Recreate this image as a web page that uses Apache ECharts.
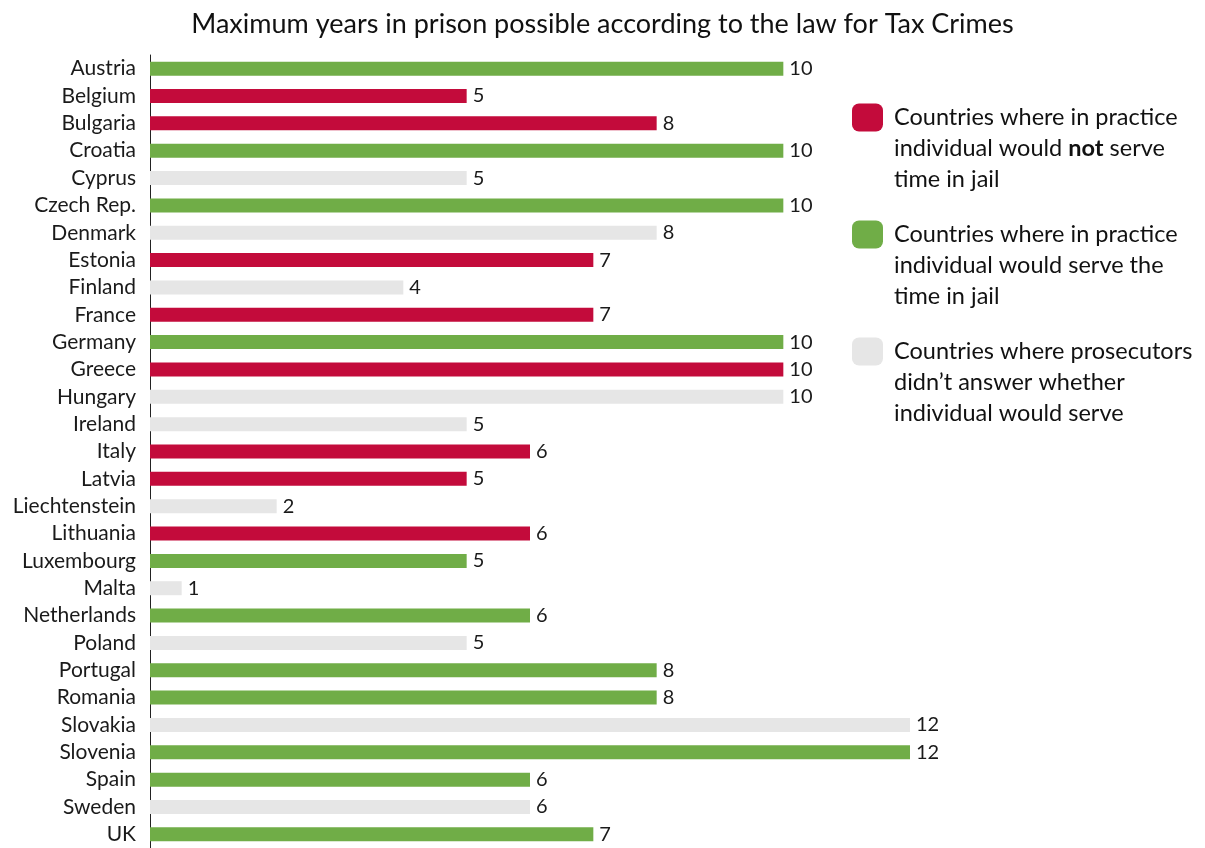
<!DOCTYPE html>
<html>
<head>
<meta charset="utf-8">
<script src="https://cdn.jsdelivr.net/npm/echarts@6/dist/echarts.min.js"></script>
<style>
  html, body { margin: 0; padding: 0; background: #fff; }
  #chart { width: 1205px; height: 848px; }
</style>
</head>
<body>
<div id="chart"></div>
<script>
const countries = ['Austria', 'Belgium', 'Bulgaria', 'Croatia', 'Cyprus', 'Czech Rep.', 'Denmark', 'Estonia',
  'Finland', 'France', 'Germany', 'Greece', 'Hungary', 'Ireland', 'Italy', 'Latvia', 'Liechtenstein',
  'Lithuania', 'Luxembourg', 'Malta', 'Netherlands', 'Poland', 'Portugal', 'Romania', 'Slovakia',
  'Slovenia', 'Spain', 'Sweden', 'UK']
// Malta's bar is half a year long but labelled "1" (rounded) in the original
const maxYears = [10, 5, 8, 10, 5, 10, 8, 7, 4, 7, 10, 10, 10, 5, 6, 5, 2, 6, 5, 0.5, 6, 5, 8, 8, 12, 12, 6, 6, 7]
// R = would not serve, G = would serve, N = no answer
const groups = ['G', 'R', 'R', 'G', 'N', 'G', 'N', 'R', 'N', 'R', 'G', 'R', 'N', 'N', 'R', 'R', 'N',
  'R', 'G', 'N', 'G', 'N', 'G', 'G', 'N', 'G', 'G', 'N', 'G']
const seriesNames = ['notServe', 'serve', 'noAnswer']
const groupKeys = ['R', 'G', 'N']
const colors = ['#C30B3B', '#70AD47', '#E6E6E6']
const legendText = {
  notServe: 'Countries where in practice\nindividual would {b|not} serve\ntime in jail',
  serve: 'Countries where in practice\nindividual would serve the\ntime in jail',
  noAnswer: 'Countries where prosecutors\ndidn\u2019t answer whether\nindividual would serve'
}

const FONT = 'Lato, "Open Sans", sans-serif'

const chart = echarts.init(document.getElementById('chart'))

const series = seriesNames.map((name, i) => ({
  name: name,
  type: 'bar',
  barWidth: 14,
  barGap: '-100%',
  itemStyle: { color: colors[i] },
  label: {
    show: true,
    position: 'right',
    distance: 6,
    color: '#1a1a1a',
    fontFamily: FONT,
    fontSize: 20,
    formatter: p => Math.round(p.value)
  },
  data: maxYears.map((v, j) => groups[j] === groupKeys[i] ? v : null)
}))

chart.setOption({
  backgroundColor: '#fff',
  animation: false,
  title: {
    text: 'Maximum years in prison possible according to the law for Tax Crimes',
    left: 'center',
    top: 6,
    textStyle: { fontFamily: FONT, fontSize: 27, fontWeight: 'normal', color: '#111' }
  },
  legend: {
    orient: 'vertical',
    left: 847,
    top: 35,
    itemWidth: 31,
    itemHeight: 28,
    itemGap: -38,
    icon: 'roundRect',
    data: seriesNames,
    formatter: name => legendText[name],
    textStyle: {
      fontFamily: FONT,
      fontSize: 23.5,
      color: '#111',
      lineHeight: 31,
      padding: [62, 0, 0, 6],
      rich: {
        b: { fontFamily: FONT, fontSize: 23.5, fontWeight: 'bold', color: '#111', lineHeight: 31 }
      }
    }
  },
  grid: { left: 150, top: 55, width: 760, height: 797.5, containLabel: false },
  xAxis: {
    type: 'value',
    min: 0,
    max: 12,
    show: false
  },
  yAxis: {
    type: 'category',
    inverse: true,
    data: countries,
    axisLine: { lineStyle: { color: '#222', width: 1 } },
    axisTick: { show: false },
    axisLabel: { fontFamily: FONT, fontSize: 21, color: '#1a1a1a', margin: 14 }
  },
  series: series
})
</script>
</body>
</html>
